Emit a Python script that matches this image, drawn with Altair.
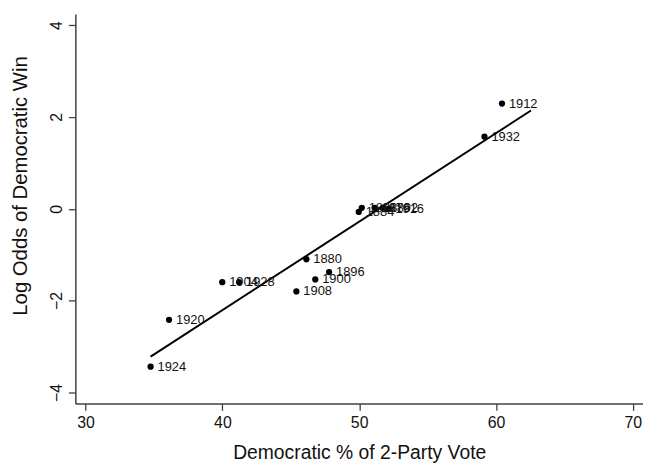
import altair as alt
import pandas as pd

years = ["1876", "1880", "1884", "1888", "1892", "1896", "1900", "1904",
         "1908", "1912", "1916", "1920", "1924", "1928", "1932"]
dem_vote = [51.13, 46.14, 49.97, 50.19, 51.71, 47.80, 46.79, 39.99,
            45.41, 60.44, 52.14, 36.10, 34.75, 41.22, 59.16]
log_odds = [0.02, -1.10, -0.07, 0.02, 0.02, -1.38, -1.54, -1.60,
            -1.80, 2.29, 0.00, -2.42, -3.44, -1.60, 1.57]

fit_x = [34.75, 62.56]
fit_y = [-3.22, 2.14]

x_ticks = [30, 40, 50, 60, 70]
y_ticks = [-4, -2, 0, 2, 4]

pts = pd.DataFrame({"year": years, "vote": dem_vote, "odds": log_odds})
fit = pd.DataFrame({"vote": fit_x, "odds": fit_y})

FONT = "Liberation Sans"
AX = "#404040"

xscale = alt.Scale(domain=[29.25, 70.75], nice=False, zero=False)
yscale = alt.Scale(domain=[-4.24, 4.24], nice=False, zero=False)

xaxis = alt.Axis(values=x_ticks, grid=False, title="Democratic % of 2-Party Vote",
                 labelFont=FONT, labelFontSize=16, labelColor="#111111",
                 labelPadding=4, tickSize=7, tickColor=AX, tickWidth=1.3,
                 domainColor=AX, domainWidth=1.5,
                 titleFont=FONT, titleFontSize=19.5, titleFontWeight="normal",
                 titleColor="#111111", titleY=50, titleBaseline="middle")
yaxis = alt.Axis(values=y_ticks, grid=False, title="Log  Odds of Democratic Win",
                 labelFont=FONT, labelFontSize=16, labelColor="#111111",
                 labelAngle=270, labelAlign="center", labelBaseline="bottom",
                 labelPadding=4, tickSize=7, tickColor=AX, tickWidth=1.3,
                 domainColor=AX, domainWidth=1.5,
                 titleFont=FONT, titleFontSize=20.5, titleFontWeight="normal",
                 titleColor="#111111", titleAngle=270, titleAlign="center",
                 titleBaseline="middle", titleX=-55, titleY=173)

line = alt.Chart(fit).mark_line(color="#000000", strokeWidth=2).encode(
    x=alt.X("vote:Q", scale=xscale, axis=xaxis),
    y=alt.Y("odds:Q", scale=yscale, axis=yaxis),
)
dots = alt.Chart(pts).mark_circle(color="#000000", opacity=1, size=40).encode(
    x=alt.X("vote:Q", scale=xscale),
    y=alt.Y("odds:Q", scale=yscale),
)
labels = alt.Chart(pts).mark_text(align="left", baseline="middle", dx=7,
                                  font=FONT, fontSize=13, color="#111111").encode(
    x=alt.X("vote:Q", scale=xscale),
    y=alt.Y("odds:Q", scale=yscale),
    text="year:N",
)

chart = alt.layer(line, dots, labels).properties(
    width=573, height=393,
    autosize=alt.AutoSizeParams(type="none"),
    padding={"left": 68, "top": 4, "right": 0, "bottom": 58},
    background="white",
).configure_view(stroke=None)

chart.save("out.html", embed_options={"renderer": "svg", "actions": False})
